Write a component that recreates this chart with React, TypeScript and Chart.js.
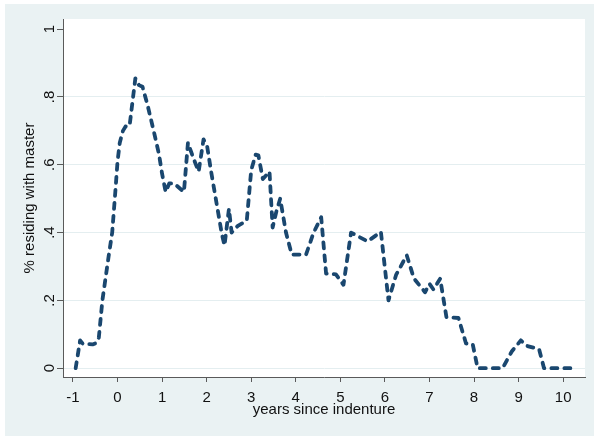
import React, { useEffect, useRef } from "react";
import { Chart, registerables } from "chart.js";

Chart.register(...registerables);

const xValues = [
  -0.94, -0.84, -0.78, -0.56, -0.47, -0.42, -0.34, -0.2, -0.12, -0.05, 0, 0.05, 0.12, 0.18, 0.27,
  0.4, 0.48, 0.56, 0.67, 0.82, 0.93, 1.0, 1.08, 1.16, 1.27, 1.4, 1.49, 1.58, 1.7, 1.82, 1.93,
  2.01, 2.1, 2.25, 2.34, 2.4, 2.5, 2.56, 2.7, 2.9, 3.0, 3.1, 3.16, 3.26, 3.41, 3.48, 3.56, 3.65,
  3.78, 3.91, 4.23, 4.4, 4.57, 4.68, 4.9, 5.07, 5.24, 5.61, 5.91, 6.08, 6.25, 6.49, 6.65, 6.9,
  7.0, 7.09, 7.24, 7.38, 7.65, 7.82, 7.97, 8.08, 8.64, 8.85, 9.05, 9.18, 9.46, 9.57, 10.25,
];
const shareValues = [
  0, 0.082, 0.072, 0.07, 0.075, 0.09, 0.2, 0.33, 0.4, 0.52, 0.61, 0.665, 0.7, 0.713, 0.715,
  0.855, 0.835, 0.83, 0.778, 0.695, 0.631, 0.573, 0.52, 0.545, 0.545, 0.53, 0.52, 0.665, 0.62, 0.58, 0.675,
  0.655, 0.58, 0.465, 0.396, 0.362, 0.47, 0.4, 0.42, 0.435, 0.585, 0.63, 0.628, 0.558, 0.58, 0.415, 0.46, 0.5,
  0.4, 0.335, 0.335, 0.4, 0.445, 0.279, 0.277, 0.246, 0.4, 0.374, 0.402, 0.2, 0.275, 0.333, 0.265, 0.224,
  0.249, 0.232, 0.264, 0.151, 0.148, 0.073, 0.071, 0, 0, 0.05, 0.082, 0.066, 0.056, 0, 0,
];

const xTicks = [-1, 0, 1, 2, 3, 4, 5, 6, 7, 8, 9, 10];
const yTicks = [0, 0.2, 0.4, 0.6, 0.8, 1];
const yTickLabels = ["0", ".2", ".4", ".6", ".8", "1"];

const FONT = '"Liberation Sans", Arial, sans-serif';
const TEXT = "#111111";
const AXIS = "#5a5a5a";
const BG = "#EAF2F3";

const backgroundPlugin = {
  id: "stataBackground",
  beforeDraw(chart: any) {
    const { ctx, width, height, chartArea } = chart;
    ctx.save();
    ctx.fillStyle = "#ffffff";
    ctx.fillRect(0, 0, width, height);
    ctx.fillStyle = BG;
    ctx.fillRect(5, 4, width - 5, height - 4);
    ctx.fillStyle = "#ffffff";
    ctx.fillRect(chartArea.left, chartArea.top, chartArea.right - chartArea.left, chartArea.bottom - chartArea.top);
    ctx.restore();
  },
  afterDraw(chart: any) {
    const { ctx } = chart;
    const y = chart.scales.y;
    ctx.save();
    ctx.fillStyle = TEXT;
    ctx.font = `15px ${FONT}`;
    ctx.textAlign = "center";
    ctx.textBaseline = "alphabetic";
    yTicks.forEach((v, i) => {
      const py = y.getPixelForValue(v);
      ctx.save();
      ctx.translate(54, py);
      ctx.rotate(-Math.PI / 2);
      ctx.fillText(yTickLabels[i], 0, 0);
      ctx.restore();
    });
    ctx.restore();
  },
};

export default function App() {
  const ref = useRef<HTMLCanvasElement | null>(null);
  useEffect(() => {
    if (!ref.current) return;
    const data = xValues.map((x, i) => ({ x, y: shareValues[i] }));
    const chart = new Chart(ref.current, {
      type: "scatter",
      data: {
        datasets: [
          {
            data,
            showLine: true,
            borderColor: "#1a476f",
            backgroundColor: "#1a476f",
            borderWidth: 3.8,
            borderDash: [6, 7],
            borderCapStyle: "round",
            borderJoinStyle: "round",
            pointRadius: 0,
            tension: 0,
          },
        ],
      },
      plugins: [backgroundPlugin],
      options: {
        animation: false,
        responsive: false,
        devicePixelRatio: 1,
        layout: { padding: { left: 0, top: 19, right: 9, bottom: 0 } },
        plugins: { legend: { display: false }, tooltip: { enabled: false } },
        scales: {
          x: {
            type: "linear",
            min: -1.224,
            max: 10.49,
            afterBuildTicks: (s: any) => {
              s.ticks = xTicks.map((v) => ({ value: v }));
            },
            afterFit: (s: any) => {
              s.height = 59;
            },
            grid: { drawOnChartArea: false, drawTicks: true, tickLength: 5, tickColor: AXIS, color: AXIS },
            border: { display: true, color: AXIS, width: 1 },
            ticks: {
              color: TEXT,
              font: { family: FONT, size: 15 },
              padding: 7,
              maxRotation: 0,
              autoSkip: false,
              callback: (v: any) => String(v),
            },
            title: {
              display: true,
              text: "years since indenture",
              color: TEXT,
              font: { family: FONT, size: 15 },
              padding: { top: 0, bottom: 17 },
            },
          },
          y: {
            type: "linear",
            min: -0.026,
            max: 1.03,
            afterBuildTicks: (s: any) => {
              s.ticks = yTicks.map((v) => ({ value: v }));
            },
            afterFit: (s: any) => {
              s.width = 63;
            },
            grid: {
              drawTicks: true,
              tickLength: 6,
              tickColor: AXIS,
              lineWidth: 1,
              color: (c: any) => (c.tick && c.tick.value === 1 ? "rgba(0,0,0,0)" : "#e4eef0"),
            },
            border: { display: true, color: AXIS, width: 1 },
            ticks: { display: false },
            title: {
              display: true,
              text: "% residing with master",
              color: TEXT,
              font: { family: FONT, size: 15 },
              padding: { top: 21, bottom: 0 },
            },
          },
        },
      },
    });
    return () => chart.destroy();
  }, []);
  return (
    <div style={{ position: "absolute", left: 0, top: 0, width: 594, height: 436 }}>
      <canvas ref={ref} width={594} height={436} style={{ width: 594, height: 436, display: "block" }} />
    </div>
  );
}
